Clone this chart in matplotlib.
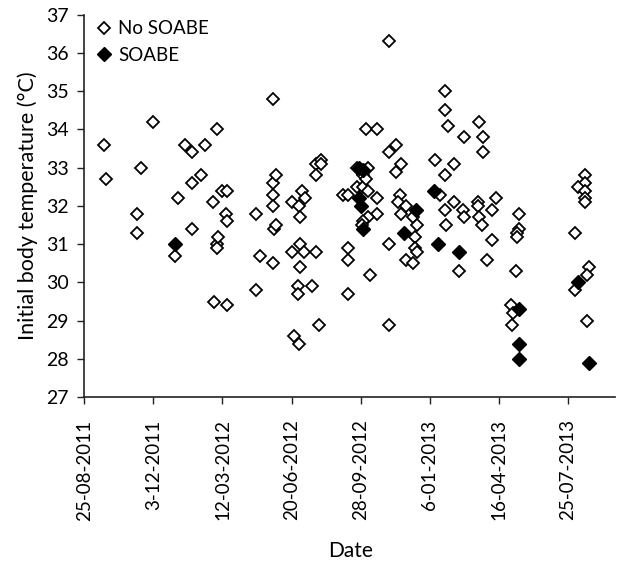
import matplotlib
matplotlib.use("Agg")
import matplotlib.pyplot as plt
import matplotlib.dates as mdates
import numpy as np

plt.rcParams['font.family'] = ['Lato', 'DejaVu Sans']

no_soabe_dates = [
    "2011-09-22", "2011-09-25", "2011-12-03", "2011-11-15", "2011-11-09", "2011-11-10",
    "2012-01-04", "2012-01-08", "2012-01-18", "2012-01-28", "2012-01-28", "2012-01-28",
    "2012-02-10", "2012-02-15", "2012-02-28", "2012-02-29", "2012-03-04", "2012-03-04",
    "2012-03-04", "2012-03-05", "2012-03-12", "2012-03-17", "2012-03-18", "2012-03-18",
    "2012-03-18", "2012-04-30", "2012-04-30", "2012-05-06", "2012-05-24", "2012-05-24",
    "2012-05-24", "2012-05-24", "2012-05-24", "2012-05-26", "2012-05-28", "2012-05-28",
    "2012-06-20", "2012-06-20", "2012-06-24", "2012-06-30", "2012-06-30", "2012-07-01",
    "2012-07-01", "2012-07-02", "2012-07-02", "2012-07-02", "2012-07-05", "2012-07-08",
    "2012-07-09", "2012-07-19", "2012-07-26", "2012-07-26", "2012-07-26", "2012-07-29",
    "2012-08-01", "2012-08-01", "2012-09-03", "2012-09-09", "2012-09-09", "2012-09-10",
    "2012-09-10", "2012-09-22", "2012-10-02", "2012-09-23", "2012-10-02", "2012-10-06",
    "2012-10-08", "2012-10-09", "2012-10-21", "2012-10-21", "2012-10-09", "2012-10-02",
    "2012-09-30", "2012-10-06", "2012-10-21", "2012-10-12", "2012-11-08", "2012-11-08",
    "2012-11-08", "2012-11-08", "2012-11-18", "2012-11-18", "2012-11-25", "2012-11-24",
    "2012-11-21", "2012-12-03", "2012-11-25", "2012-12-13", "2012-12-19", "2012-12-16",
    "2012-12-16", "2012-12-19", "2012-12-02", "2012-12-13", "2013-01-14", "2013-01-28",
    "2013-01-28", "2013-02-02", "2013-02-24", "2013-03-18", "2013-03-24", "2013-03-24",
    "2013-02-10", "2013-01-28", "2013-01-21", "2013-02-10", "2013-01-28", "2013-02-23",
    "2013-02-24", "2013-03-17", "2013-03-17", "2013-03-18", "2013-03-22", "2013-04-12",
    "2013-04-06", "2013-04-06", "2013-03-30", "2013-01-30", "2013-02-17", "2013-05-15",
    "2013-05-15", "2013-05-12", "2013-05-12", "2013-05-11", "2013-05-04", "2013-05-06",
    "2013-05-05", "2013-08-18", "2013-08-18", "2013-08-09", "2013-08-18", "2013-08-18",
    "2013-08-18", "2013-08-04", "2013-08-25", "2013-08-21", "2013-08-04", "2013-08-21",
]
no_soabe_temp = [
    33.6, 32.7, 34.2, 33.0, 31.8, 31.3,
    30.7, 32.2, 33.6, 33.4, 32.6, 31.4,
    32.8, 33.6, 32.1, 29.5, 34.0, 31.0,
    30.9, 31.2, 32.4, 31.8, 32.4, 31.6,
    29.4, 31.8, 29.8, 30.7, 34.8, 32.6,
    32.3, 32.0, 30.5, 31.4, 32.8, 31.5,
    32.1, 30.8, 28.6, 29.9, 29.7, 32.0,
    28.4, 31.7, 31.0, 30.4, 32.4, 30.8,
    32.2, 29.9, 33.1, 32.8, 30.8, 28.9,
    33.2, 33.1, 32.3, 32.3, 30.6, 30.9,
    29.7, 33.0, 32.8, 32.5, 32.5, 32.7,
    33.0, 32.4, 32.2, 31.8, 31.7, 31.6,
    31.5, 34.0, 34.0, 30.2, 36.3, 33.4,
    31.0, 28.9, 33.6, 32.9, 33.1, 32.3,
    32.1, 32.0, 31.8, 31.7, 31.5, 31.2,
    30.9, 30.8, 30.6, 30.5, 33.2, 35.0,
    34.5, 34.1, 33.8, 34.2, 33.8, 33.4,
    33.1, 32.8, 32.3, 32.1, 31.9, 31.9,
    31.7, 32.1, 32.0, 31.7, 31.5, 32.2,
    31.9, 31.1, 30.6, 31.5, 30.3, 31.8,
    31.4, 31.3, 31.2, 30.3, 29.4, 29.2,
    28.9, 32.8, 32.6, 32.5, 32.4, 32.2,
    32.1, 31.3, 30.4, 30.2, 29.8, 29.0,
]

soabe_dates = [
    "2012-01-04", "2012-09-26", "2012-10-01", "2012-09-26", "2012-09-28", "2012-10-01",
    "2012-12-17", "2012-11-30", "2013-01-12", "2013-01-18", "2013-02-18", "2013-05-15",
    "2013-05-15", "2013-05-15", "2013-08-09", "2013-08-25",
]
soabe_temp = [
    31.0, 33.0, 32.95, 32.2, 32.0, 31.4,
    31.9, 31.3, 32.4, 31.0, 30.8, 29.3,
    28.4, 28.0, 30.0, 27.9,
]

tick_dates = ["2011-08-25", "2011-12-03", "2012-03-12", "2012-06-20",
              "2012-09-28", "2013-01-06", "2013-04-16", "2013-07-25"]
tick_labels = ["25-08-2011", "3-12-2011", "12-03-2012", "20-06-2012",
               "28-09-2012", "6-01-2013", "16-04-2013", "25-07-2013"]

x_no = mdates.datestr2num(no_soabe_dates)
x_so = mdates.datestr2num(soabe_dates)
x_ticks = mdates.datestr2num(tick_dates)

fig = plt.figure(figsize=(6.18, 5.69), dpi=100)
ax = fig.add_axes([0.1364, 0.3018, 0.8586, 0.6724])

ax.plot(x_no, no_soabe_temp, linestyle='none', marker='D', markersize=6.3,
        markerfacecolor='white', markeredgecolor='black', markeredgewidth=1.3,
        label='No SOABE')
ax.plot(x_so, soabe_temp, linestyle='none', marker='D', markersize=7.3,
        markerfacecolor='black', markeredgecolor='black', markeredgewidth=1.0,
        label='SOABE')

ax.set_xlim(mdates.datestr2num("2011-08-25"), mdates.datestr2num("2013-10-01"))
ax.set_ylim(27, 37)
ax.set_yticks(range(27, 38))
ax.set_xticks(x_ticks)
ax.set_xticklabels(tick_labels, rotation=90)

for s in ['top', 'right']:
    ax.spines[s].set_visible(False)
for s in ['left', 'bottom']:
    ax.spines[s].set_linewidth(1.2)
    ax.spines[s].set_color('#222222')

ax.tick_params(axis='both', direction='out', length=5, width=1.0, labelsize=14, color='#222222')
ax.tick_params(axis='x', pad=11, labelsize=13.5)
ax.tick_params(axis='y', pad=6)
ax.set_ylabel('Initial body temperature (°C)', fontsize=15.5, labelpad=6)
fig.text(0.567, 0.031, 'Date', fontsize=15, ha='center', va='center')

leg = ax.legend(loc='upper left', frameon=False, fontsize=13.5, handletextpad=0.25,
                borderaxespad=0.0, handlelength=1.0, labelspacing=0.5,
                bbox_to_anchor=(0.005, 1.005))

fig.savefig('out.png', dpi=100)
